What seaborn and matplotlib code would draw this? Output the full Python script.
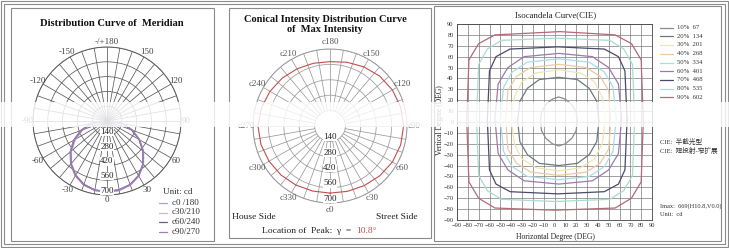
import numpy as np
import matplotlib
matplotlib.use("Agg")
import matplotlib.pyplot as plt
import seaborn as sns
from matplotlib.patches import Rectangle
from matplotlib.lines import Line2D

sns.set_theme(style="white")
plt.rcParams['font.family'] = ['Liberation Serif', 'Noto Sans CJK SC', 'DejaVu Sans']

# ---------------- data ----------------
# Panel 1: meridian distribution (gamma angle, cd)
gamma = [-90, -80, -70, -60, -50, -40, -30, -20, -10, 0, 10, 20, 30, 40, 50, 60, 70, 80, 90]
c0_180 = [40, 140, 245, 345, 440, 525, 590, 640, 668, 675, 669, 645, 600, 535, 450, 355, 255, 150, 45]
c30_210 = [45, 150, 255, 350, 445, 525, 592, 638, 664, 672, 666, 642, 598, 532, 448, 352, 250, 148, 42]
c60_240 = [50, 155, 260, 360, 450, 530, 595, 640, 662, 668, 660, 640, 596, 530, 445, 350, 250, 150, 48]
c90_270 = [55, 160, 265, 365, 455, 535, 598, 645, 665, 670, 662, 642, 600, 535, 450, 355, 258, 155, 52]
meridian_labels = ["c0 /180", "c30/210", "c60/240", "c90/270"]
radial_ticks = [140, 280, 420, 560, 700]
meridian_angle_ticks = [0, 30, 60, 90, 120, 150, 180, -150, -120, -90, -60, -30]
meridian_angle_labels = ["0", "30", "60", "90", "120", "150", "-/+180", "-150", "-120", "-90", "-60", "-30"]

# Panel 2: conical curve at gamma = 10.8 deg (C angle, cd)
c_angle = [0, 15, 30, 45, 60, 75, 90, 105, 120, 135, 150, 165, 180, 195, 210, 225, 240, 255, 270, 285, 300, 315, 330, 345]
conical_cd = [610, 615, 625, 640, 655, 665, 669, 665, 655, 640, 620, 600, 585, 590, 600, 615, 630, 645, 655, 650, 640, 630, 620, 612]
conical_angle_ticks = [0, 30, 60, 90, 120, 150, 180, 210, 240, 270, 300, 330]
conical_angle_labels = ["c0", "c30", "c60", "c90", "c120", "c150", "c180", "c210", "c240", "c270", "c300", "c330"]

# Panel 3: isocandela contours (H deg, V deg), outer to inner
iso_h_90 = [82, 80, 71, 56, 5, -55, -70, -79, -81, -79, -70, -55, 0, 56, 71, 80]
iso_v_90 = [1, 57, 72, 80, 83, 80, 72, 57, 1, -55, -70, -79, -81, -79, -70, -55]
iso_h_80 = [74, 72, 64, 51, 1, -49, -62, -70, -72, -70, -62, -49, 1, 51, 64, 72]
iso_v_80 = [2, 53, 67, 75, 77, 75, 67, 53, 2, -49, -63, -71, -73, -71, -63, -49]
iso_h_70 = [67, 65, 59, 46, 3, -41, -54, -60, -62, -60, -54, -41, 3, 46, 59, 65]
iso_v_70 = [2, 47, 60, 67, 69, 67, 60, 47, 2, -44, -57, -64, -66, -64, -57, -44]
iso_h_60 = [62, 59, 50, 35, 4, -28, -43, -52, -55, -52, -43, -28, 4, 35, 50, 59]
iso_v_60 = [3, 35, 50, 60, 63, 60, 50, 35, 3, -29, -44, -54, -57, -54, -44, -29]
iso_h_50 = [57, 54, 46, 32, 4, -25, -39, -47, -50, -47, -39, -25, 4, 32, 46, 54]
iso_v_50 = [3, 32, 46, 55, 58, 55, 46, 32, 3, -27, -41, -50, -53, -50, -41, -27]
iso_h_40 = [52, 50, 42, 29, 4, -22, -35, -43, -45, -43, -35, -22, 4, 29, 42, 50]
iso_v_40 = [2, 29, 42, 50, 53, 50, 42, 29, 2, -25, -38, -46, -49, -46, -38, -25]
iso_h_30 = [47, 44, 37, 24, 4, -17, -30, -37, -40, -37, -30, -17, 4, 24, 37, 44]
iso_v_30 = [2, 23, 37, 45, 48, 45, 37, 23, 2, -20, -34, -42, -45, -42, -34, -20]
iso_h_20 = [41, 39, 32, 21, 4, -14, -25, -32, -34, -32, -25, -14, 4, 21, 32, 39]
iso_v_20 = [1, 19, 31, 39, 41, 39, 31, 19, 1, -18, -30, -38, -40, -38, -30, -18]
iso_h_10 = [21, 20, 16, 10, 4, -2, -8, -12, -13, -12, -8, -2, 4, 10, 16, 20]
iso_v_10 = [1, 9, 16, 21, 23, 21, 16, 9, 1, -8, -15, -20, -22, -20, -15, -8]
iso_labels = ["10%  67", "20%  134", "30%  201", "40%  268", "50%  334",
              "60%  401", "70%  468", "80%  535", "90%  602"]
iso_ticks = list(range(-90, 91, 10))

# ---------------- styles ----------------
meridian_colors = ["#b89ac8", "#d2b2d2", "#6c5c8c", "#9a80b8"]
iso_colors = ["#8c8c8c", "#6a7a7a", "#ece6b0", "#f0c8a0", "#a8dce8",
              "#9a7ab0", "#4a4a6a", "#a8dcd0", "#b06a78"]
grid1 = "#5a5a5a"
grid2 = "#9a9a9a"

W, H = 729, 248
fig = plt.figure(figsize=(W / 100, H / 100), dpi=100)
fig.patch.set_facecolor("white")


def fx(x):
    return x / W


def fy(y):
    return 1 - y / H


def polar_box(cx, cy, r):
    return [fx(cx - r), fy(cy + r), 2 * r / W, 2 * r / H]


def frame(x0, y0, x1, y1, color="#8a8a8a", lw=0.8):
    fig.add_artist(Rectangle((fx(x0), fy(y1)), fx(x1) - fx(x0), fy(y0) - fy(y1),
                             transform=fig.transFigure, fill=False, ec=color, lw=lw))


frame(1, 1, 728, 247)
frame(4, 4, 725, 244)
frame(11, 8, 214, 241)
frame(229, 8, 431, 238)
frame(434, 6, 721, 241)

# ---------------- panel 1 ----------------
ax1 = fig.add_axes(polar_box(107, 121, 74), projection="polar")
ax1.set_theta_zero_location("S")
ax1.set_theta_direction(1)
ax1.set_ylim(0, 700)
ax1.set_yticks(radial_ticks)
ax1.set_yticklabels([])
ax1.set_xticks(np.radians(np.arange(0, 360, 10)))
ax1.set_xticklabels([])
ax1.grid(True, color=grid1, lw=0.55)
ax1.spines["polar"].set_color(grid1)
ax1.spines["polar"].set_linewidth(0.7)
ax1.set_facecolor("white")
for vals, col in zip([c0_180, c30_210, c60_240, c90_270], meridian_colors):
    sns.lineplot(x=np.radians(gamma), y=vals, ax=ax1, sort=False, estimator=None,
                 color=col, lw=1.0, legend=False)
ax1.set_xlabel("")
ax1.set_ylabel("")
for r in radial_ticks:
    ax1.text(0, r - 38, str(r), ha="center", va="center", fontsize=6.5, color="#222",
             bbox=dict(fc="white", ec="none", pad=0.2))
for a, lab in zip(meridian_angle_ticks, meridian_angle_labels):
    ax1.text(np.radians(a), 752, lab, ha="center", va="center", fontsize=6.5,
             color="#444", clip_on=False)

fig.text(fx(112), fy(23), "Distribution Curve of  Meridian", ha="center", va="center",
         fontsize=7.6, fontweight="bold", color="#111")
fig.text(fx(163), fy(192), "Unit: cd", ha="left", va="center", fontsize=6.5, color="#333")
for i, (lab, col) in enumerate(zip(meridian_labels, meridian_colors)):
    yy = 203 + i * 9.5
    fig.add_artist(Line2D([fx(159), fx(167)], [fy(yy), fy(yy)], color=col, lw=0.9,
                          transform=fig.transFigure))
    fig.text(fx(172), fy(yy), lab, ha="left", va="center", fontsize=6.5, color="#333")

# ---------------- panel 2 ----------------
ax2 = fig.add_axes(polar_box(330, 126, 77), projection="polar")
ax2.set_theta_zero_location("S")
ax2.set_theta_direction(1)
ax2.set_ylim(0, 700)
ax2.set_yticks(radial_ticks)
ax2.set_yticklabels([])
ax2.set_xticks([])
ax2.yaxis.grid(True, color=grid2, lw=0.55)
ax2.spines["polar"].set_color(grid2)
ax2.spines["polar"].set_linewidth(0.7)
ax2.set_facecolor("white")
for a in range(0, 360, 10):
    ax2.plot([np.radians(a)] * 2, [140, 700], color=grid2, lw=0.55)
ca = c_angle + [c_angle[0]]
cv = conical_cd + [conical_cd[0]]
sns.lineplot(x=np.radians(ca), y=cv, ax=ax2, sort=False, estimator=None,
             color="#c0504d", lw=0.8, legend=False)
ax2.set_xlabel("")
ax2.set_ylabel("")
for r in radial_ticks:
    ax2.text(0, r - 38, str(r), ha="center", va="center", fontsize=6.5, color="#222",
             bbox=dict(fc="white", ec="none", pad=0.2))
for a, lab in zip(conical_angle_ticks, conical_angle_labels):
    ax2.text(np.radians(a), 760, lab, ha="center", va="center", fontsize=6.5,
             color="#555", clip_on=False)

fig.text(fx(325), fy(19), "Conical Intensity Distribution Curve", ha="center", va="center",
         fontsize=7.5, fontweight="bold", color="#111")
fig.text(fx(325), fy(29), "of  Max Intensity", ha="center", va="center",
         fontsize=7.5, fontweight="bold", color="#111")
fig.text(fx(232), fy(217), "House Side", ha="left", va="center", fontsize=6.8, color="#222")
fig.text(fx(418), fy(217), "Street Side", ha="right", va="center", fontsize=6.8, color="#222")
fig.text(fx(262), fy(231), "Location of  Peak:  \u03b3  = ", ha="left", va="center",
         fontsize=6.8, color="#222")
fig.text(fx(356), fy(231), "10.8\u00b0", ha="left", va="center", fontsize=6.8, color="#c0504d")

# ---------------- panel 3 ----------------
ax3 = fig.add_axes([fx(457), fy(220), 195 / W, 196 / H])
ax3.set_facecolor("white")
contours = [(iso_h_90, iso_v_90), (iso_h_80, iso_v_80), (iso_h_70, iso_v_70),
            (iso_h_60, iso_v_60), (iso_h_50, iso_v_50), (iso_h_40, iso_v_40),
            (iso_h_30, iso_v_30), (iso_h_20, iso_v_20), (iso_h_10, iso_v_10)]
for (hh, vv), col in zip(contours, iso_colors[::-1]):
    sns.lineplot(x=hh + [hh[0]], y=vv + [vv[0]], ax=ax3, sort=False, estimator=None,
                 color=col, lw=0.9, legend=False)
ax3.set_xlim(-90, 90)
ax3.set_ylim(-90, 90)
ax3.set_xticks(iso_ticks)
ax3.set_yticks(iso_ticks)
ax3.tick_params(labelsize=4.6, colors="#333", length=1.5, width=0.5, pad=1)
ax3.grid(True, color="#7a7a7a", lw=0.5)
for s in ax3.spines.values():
    s.set_color("#444")
    s.set_linewidth(0.6)
ax3.set_xlabel("")
ax3.set_ylabel("")
fig.text(fx(556), fy(15), "Isocandela Curve(CIE)", ha="center", va="center", fontsize=6.3, color="#222")
fig.text(fx(555), fy(237), "Horizontal Degree (DEG)", ha="center", va="center", fontsize=5.5, color="#222")
fig.text(fx(440), fy(120), "Vertical Degree (DEG)", ha="center", va="center", rotation=90,
         fontsize=5.5, color="#222")
for i, (lab, col) in enumerate(zip(iso_labels, iso_colors)):
    yy = 27.5 + i * 8.75
    fig.add_artist(Line2D([fx(660), fx(673)], [fy(yy), fy(yy)], color=col, lw=0.9,
                          transform=fig.transFigure))
    fig.text(fx(677), fy(yy), lab, ha="left", va="center", fontsize=4.8, color="#333")
fig.text(fx(660), fy(141), "CIE:  半截光型", ha="left", va="center", fontsize=4.8, color="#333")
fig.text(fx(660), fy(150), "CIE:  短投射-窄扩展", ha="left", va="center", fontsize=4.8, color="#333")
fig.text(fx(660), fy(206), "Imax:  669(H10.8,V0.0)", ha="left", va="center", fontsize=4.6, color="#333")
fig.text(fx(660), fy(215), "Unit:  cd", ha="left", va="center", fontsize=4.6, color="#333")

# translucent band seen across the reference image
fig.add_artist(Rectangle((0, fy(127)), 1, (127 - 102) / H, transform=fig.transFigure,
                         fc="white", ec="none", alpha=0.82, zorder=20))

fig.savefig("out.png", dpi=100, facecolor="white")
